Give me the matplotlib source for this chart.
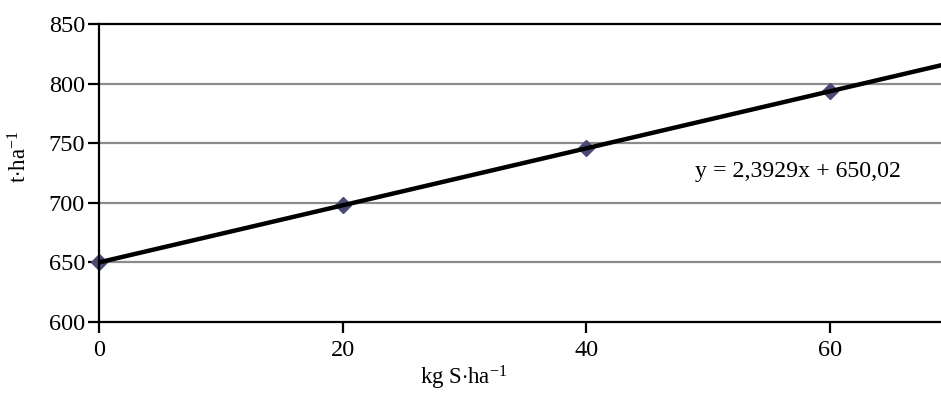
import numpy as np
import matplotlib
matplotlib.use('Agg')
from matplotlib import pyplot as plt

# sulphur dose (kg S/ha) and yield (t/ha)
doses = [0, 20, 40, 60]
yields = [650, 698, 746, 794]
slope, intercept = 2.3929, 650.02
y_ticks = [600, 650, 700, 750, 800, 850]
x_ticks = [0, 20, 40, 60]

plt.rcParams['font.family'] = ['Liberation Serif', 'DejaVu Serif']
plt.rcParams['mathtext.fontset'] = 'custom'
plt.rcParams['mathtext.rm'] = 'Liberation Serif'
plt.rcParams['mathtext.it'] = 'Liberation Serif:italic'

fig = plt.figure(figsize=(9.41, 3.93), dpi=100)
ax = fig.add_axes([99 / 941, (393 - 322) / 393, (952 - 99) / 941, 298 / 393])

ax.set_xlim(0, 70)
ax.set_ylim(600, 850)

# horizontal grid, top one drawn black
for yv in y_ticks[1:-1]:
    ax.axhline(yv, color='#8c8c8c', lw=1.6, zorder=1)
ax.axhline(y_ticks[-1], color='black', lw=1.6, zorder=1, clip_on=False)

xs = np.array([0, 70])
ax.plot(xs, slope * xs + intercept, color='black', lw=3.2, zorder=3,
        solid_capstyle='butt')
ax.plot(doses, yields, 'D', color='#4b4a75', markersize=8.5, zorder=2,
        clip_on=False)

ax.text(695, 393 - 172, 'y = 2,3929x + 650,02', transform=None, fontsize=17.2,
        va='center', ha='left')

for s in ['top', 'right']:
    ax.spines[s].set_visible(False)
for s in ['left', 'bottom']:
    ax.spines[s].set_linewidth(1.6)

ax.set_xticks(x_ticks)
ax.set_yticks(y_ticks)
ax.tick_params(axis='both', direction='out', length=8, width=1.6,
               labelsize=17.5, pad=2)
ax.tick_params(axis='x', pad=5)

fig.text(20 / 941, 1 - 157 / 393, r'$\mathrm{t{\cdot}ha^{-1}}$', rotation=90,
         ha='center', va='center', fontsize=16.5)
fig.text(464 / 941, 1 - 378 / 393, r'$\mathrm{kg\ S{\cdot}ha^{-1}}$',
         ha='center', va='center', fontsize=16.5)

fig.savefig('out.png', dpi=100)
